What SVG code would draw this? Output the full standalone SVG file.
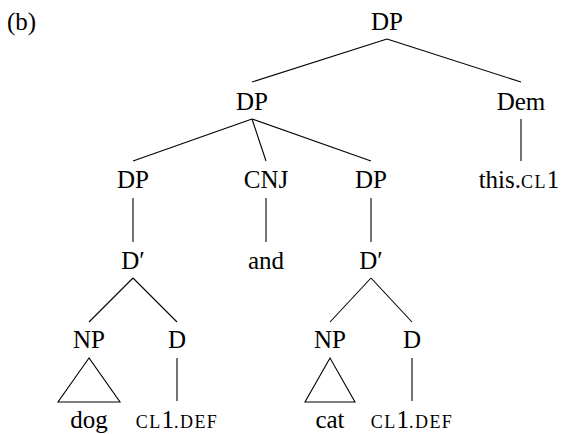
<svg xmlns="http://www.w3.org/2000/svg" width="562" height="434" viewBox="0 0 562 434">
<style>
.e line,.e polygon{stroke:#000;stroke-width:1.1;fill:none}
.sc{font-size:18px;letter-spacing:1.4px}
</style>
<rect width="562" height="434" fill="#fff"/>
<g font-family="Liberation Serif" font-size="25" fill="#000">
<text x="7" y="30">(b)</text>
</g>
<g id="edges" class="e">
<line x1="387" y1="39" x2="252" y2="82"/>
<line x1="387" y1="39" x2="521" y2="82"/>
<line x1="252" y1="119" x2="133" y2="161"/>
<line x1="252" y1="119" x2="266" y2="161"/>
<line x1="252" y1="119" x2="371" y2="161"/>
<line x1="521" y1="119" x2="521" y2="161"/>
<line x1="133" y1="198" x2="133" y2="242"/>
<line x1="266" y1="198" x2="266" y2="242"/>
<line x1="371" y1="198" x2="371" y2="242"/>
<line x1="133" y1="278" x2="89" y2="322"/>
<line x1="133" y1="278" x2="177" y2="322"/>
<line x1="371" y1="278" x2="330" y2="322"/>
<line x1="371" y1="278" x2="412" y2="322"/>
<polygon points="89,358 58,402 120,402"/>
<polygon points="330,358 305,402 355,402"/>
<line x1="177" y1="358" x2="177" y2="401"/>
<line x1="412" y1="358" x2="412" y2="401"/>
</g>
<g font-family="Liberation Serif" font-size="25" fill="#000" text-anchor="middle">
<g id="n-dp-root"><text x="387" y="30">DP</text></g>
<g id="n-dp-coord"><text x="252" y="110">DP</text></g>
<g id="n-dem"><text x="521" y="110">Dem</text></g>
<g id="n-dp-left"><text x="133" y="188">DP</text></g>
<g id="n-cnj"><text x="266" y="188">CNJ</text></g>
<g id="n-dp-right"><text x="371" y="188">DP</text></g>
<g id="n-this"><text x="519" y="188">this.<tspan class="sc">CL</tspan>1</text></g>
<g id="n-dbar-left"><text x="133" y="269">D′</text></g>
<g id="n-and"><text x="266" y="269">and</text></g>
<g id="n-dbar-right"><text x="371" y="269">D′</text></g>
<g id="n-np-left"><text x="89" y="348">NP</text></g>
<g id="n-d-left"><text x="177" y="348">D</text></g>
<g id="n-np-right"><text x="330" y="348">NP</text></g>
<g id="n-d-right"><text x="412" y="348">D</text></g>
<g id="n-dog"><text x="89" y="428">dog</text></g>
<g id="n-cl-left"><text x="177" y="428"><tspan class="sc">CL</tspan>1<tspan class="sc">.DEF</tspan></text></g>
<g id="n-cat"><text x="330" y="428">cat</text></g>
<g id="n-cl-right"><text x="412" y="428"><tspan class="sc">CL</tspan>1<tspan class="sc">.DEF</tspan></text></g>
</g>
</svg>
